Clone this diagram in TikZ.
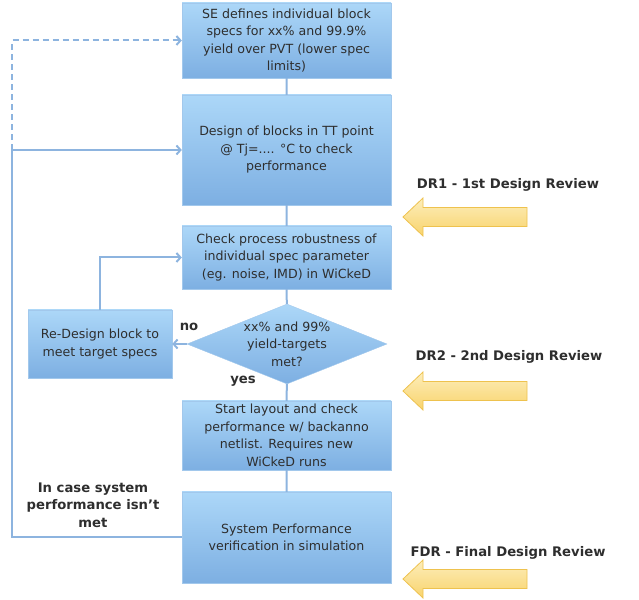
\documentclass[tikz,border=0pt]{standalone}
\usepackage{fontspec}
\setmainfont{DejaVu Sans}
\usetikzlibrary{positioning,arrows.meta,shapes,calc}
\definecolor{BoxTop}{HTML}{ACD7F8}
\definecolor{BoxBot}{HTML}{7DAFE2}
\definecolor{BoxEdge}{HTML}{A2C8EC}
\definecolor{Link}{HTML}{8DB4DF}
\definecolor{Ink}{HTML}{2E2E2E}
\definecolor{RevTop}{HTML}{FDEEBB}
\definecolor{RevBot}{HTML}{F8D36C}
\definecolor{RevEdge}{HTML}{EEC24E}

\begin{document}
\begin{tikzpicture}[x=1pt,y=1pt,
    box/.style={draw=BoxEdge,top color=BoxTop,bottom color=BoxBot,text=Ink,align=center,
      minimum width=209pt,inner sep=1pt,font=\fontsize{12.6}{17.5}\selectfont},
    decide/.style={diamond,aspect=2.5,draw=BoxEdge,top color=BoxTop,bottom color=BoxBot,text=Ink,align=center,
      minimum width=200pt,minimum height=80pt,inner sep=0pt,font=\fontsize{12.6}{17.5}\selectfont},
    link/.style={Link,line width=2pt},
    tip/.style={-{Straight Barb[length=4pt,width=9pt]}},
    lbl/.style={text=Ink,font=\fontsize{13.2}{17.5}\selectfont\bfseries,align=center},
    review/.style={draw=RevEdge,line width=0.8pt,top color=RevTop,bottom color=RevBot}]
  \useasboundingbox (0,0) rectangle (639,599);
  % flow boxes
  \node[box,minimum height=75pt] (spec) at (286.5,558.5) {SE defines individual block\\specs for xx\% and 99.9\%\\yield over PVT (lower spec\\limits)};
  \node[box,minimum height=110pt] (tt) at (286.5,449) {Design of blocks in TT point\\@ Tj=.... °C to check\\performance};
  \node[box,minimum height=63pt] (robust) at (286.5,341.5) {Check process robustness of\\individual spec parameter\\(eg. noise, IMD) in WiCkeD};
  \node[decide] (yield) at (287,255) {xx\% and 99\%\\yield-targets\\met?};
  \node[box,minimum width=144pt,minimum height=68pt] (redo) at (100,255) {Re-Design block to\\meet target specs};
  \node[box,minimum height=69pt] (layout) at (286.5,163.5) {Start layout and check\\performance w/ backanno\\netlist. Requires new\\WiCkeD runs};
  \node[box,minimum height=91pt] (sysperf) at (286.5,61.5) {System Performance\\verification in simulation};
  \coordinate (rail) at (12,0);
  % connectors
  \draw[link] (spec) -- (tt) (tt) -- (robust) (robust) -- (yield) (yield) -- (layout) (layout) -- (sysperf);
  \draw[link,tip] (yield.west) -- (redo.east);
  \draw[link,tip] (redo.north) |- (robust.west);
  \draw[link,tip] (sysperf.west) -| (rail |- tt.west) -- (tt.west);
  \draw[link,tip,dashed,dash pattern=on 6pt off 4pt] (rail |- tt.west) |- (spec.west);
  \node[lbl] (no) at (189,272) {no};
  \node[lbl] (yes) at (243,218) {yes};
  \node[lbl] (fail) at (93,94) {In case system\\performance isn’t\\met};
  % design reviews
  \node[lbl] (dr1) at (508,414) {DR1 - 1st Design Review};
  \node[lbl] (dr2) at (509,242) {DR2 - 2nd Design Review};
  \node[lbl] (fdr) at (508,46) {FDR - Final Design Review};
  \foreach \c in {382,208,20} {
    \draw[review] (527,\c+9.5) -- (423,\c+9.5) -- (423,\c+19) -- (403,\c) -- (423,\c-19) -- (423,\c-9.5) -- (527,\c-9.5) -- cycle;
  }
\end{tikzpicture}
\end{document}
